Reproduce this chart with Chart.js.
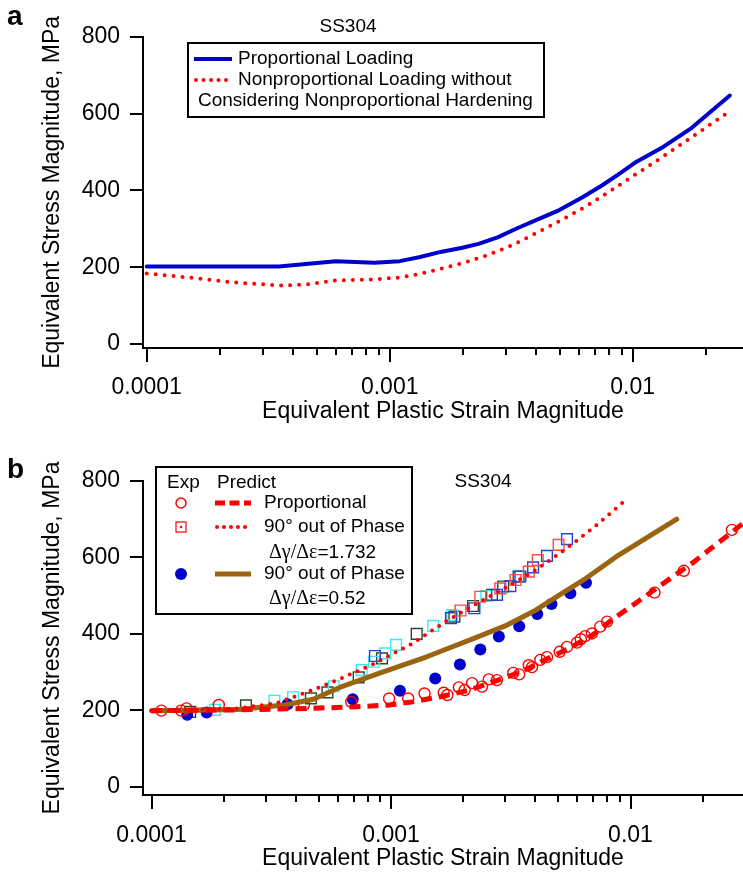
<!DOCTYPE html>
<html><head><meta charset="utf-8">
<script src="https://cdn.jsdelivr.net/npm/chart.js@4"></script>
<style>
html,body{margin:0;padding:0;background:#fff;width:743px;height:874px;overflow:hidden}
canvas{position:absolute;left:0;display:block}
</style></head>
<body>
<canvas id="ca" width="743" height="437" style="top:0"></canvas>
<canvas id="cb" width="743" height="437" style="top:437px"></canvas>
<script>
// ---------- shared axis ticks ----------
const yTickValues = [0, 200, 400, 600, 800];
const xDecades = [1e-4, 1e-3, 1e-2];
const xDecadeLabels = ['0.0001', '0.001', '0.01'];
const xTickMult = [1, 2, 3, 4, 5, 6, 7, 8, 9];

// ---------- panel a ----------
const strainA_prop = [1e-4, 3.5e-4, 6.0e-4, 8.65e-4, 1.1e-3, 1.32e-3, 1.62e-3, 1.99e-3, 2.32e-3, 2.78e-3, 3.33e-3, 3.98e-3, 4.99e-3, 6.24e-3, 7.47e-3, 8.74e-3, 1.02e-2, 1.34e-2, 1.75e-2, 2.51e-2];
const stressA_prop = [202, 202, 216, 212, 216, 226, 240, 251, 261, 278, 301, 322, 349, 383, 413, 442, 472, 514, 563, 647];
const strainA_nonprop = [1e-4, 1.5e-4, 2.35e-4, 3.68e-4, 4.6e-4, 6.0e-4, 8.26e-4, 1.08e-3, 1.29e-3, 1.62e-3, 2.03e-3, 2.54e-3, 3.18e-3, 3.98e-3, 4.99e-3, 6.24e-3, 7.8e-3, 9.35e-3, 1.22e-2, 1.67e-2, 2.4e-2];
const stressA_nonprop = [184, 173, 160, 152, 156, 166, 168, 173, 181, 196, 212, 232, 257, 288, 320, 354, 392, 425, 472, 530, 598];

// ---------- panel b : predictions ----------
const strainB_predProp = [1e-4, 2.29e-4, 4.53e-4, 7.14e-4, 9.82e-4, 1.23e-3, 1.62e-3, 2.13e-3, 2.8e-3, 3.51e-3, 4.4e-3, 5.53e-3, 6.95e-3, 8.33e-3, 1.05e-2, 1.37e-2, 1.81e-2, 2.95e-2];
const stressB_predProp = [199, 201, 205, 209, 214, 222, 236, 253, 279, 301, 332, 362, 397, 436, 480, 532, 585, 689];
const strainB_pred1732 = [1e-4, 2.29e-4, 3.3e-4, 4.53e-4, 6.23e-4, 8.57e-4, 1.23e-3, 1.69e-3, 2.22e-3, 3.05e-3, 4.02e-3, 5.28e-3, 6.95e-3, 9.5e-3];
const stressB_pred1732 = [199, 205, 218, 249, 284, 323, 375, 432, 475, 523, 567, 619, 676, 749];
const strainB_pred052 = [1e-4, 2.29e-4, 3.61e-4, 4.74e-4, 6.23e-4, 8.96e-4, 1.41e-3, 2.22e-3, 3.05e-3, 4.02e-3, 5.06e-3, 6.37e-3, 8.72e-3, 1.56e-2];
const stressB_pred052 = [199, 202, 214, 229, 262, 297, 340, 388, 423, 462, 502, 541, 602, 700];

// ---------- panel b : experiments ----------
const strainB_expProp = [1.1e-4, 1.33e-4, 1.4e-4, 1.91e-4, 4.33e-4, 6.82e-4, 9.82e-4, 1.18e-3, 1.38e-3, 1.66e-3, 1.72e-3, 1.92e-3, 2.03e-3, 2.18e-3, 2.4e-3, 2.56e-3, 2.77e-3, 3.24e-3, 3.43e-3, 3.76e-3, 3.88e-3, 4.2e-3, 4.48e-3, 5.06e-3, 5.43e-3, 5.98e-3, 6.2e-3, 6.47e-3, 6.9e-3, 7.48e-3, 7.98e-3, 1.26e-2, 1.67e-2, 2.65e-2];
const stressB_expProp = [199, 199, 205, 214, 214, 222, 231, 231, 244, 246, 240, 260, 253, 271, 262, 281, 279, 298, 294, 318, 313, 332, 339, 353, 366, 377, 386, 394, 401, 419, 432, 508, 565, 672];
const strainB_sqGreen = [1.45e-4, 2.48e-4, 4.63e-4, 5.43e-4, 7.33e-4, 9.17e-4, 1.28e-3, 1.84e-3, 2.2e-3, 2.64e-3, 2.94e-3, 3.41e-3];
const stressB_sqGreen = [196, 213, 231, 247, 286, 336, 400, 445, 473, 502, 524, 550];
const strainB_sqCyan = [1.84e-4, 3.26e-4, 3.9e-4, 5.77e-4, 7.54e-4, 8.49e-4, 9.46e-4, 1.05e-3, 1.5e-3, 1.8e-3, 2.5e-3];
const stressB_sqCyan = [201, 225, 234, 263, 305, 327, 349, 371, 421, 449, 499];
const strainB_sqBlue = [8.57e-4, 1.78e-3, 2.23e-3, 2.77e-3, 3.15e-3, 3.47e-3, 3.92e-3, 4.48e-3, 5.43e-3];
const stressB_sqBlue = [342, 441, 467, 502, 525, 550, 574, 604, 648];
const strainB_sqRed = [1.95e-3, 2.36e-3, 2.86e-3, 3.31e-3, 3.76e-3, 4.1e-3, 5.01e-3];
const stressB_sqRed = [461, 497, 519, 541, 563, 593, 633];
const strainB_exp052 = [1.41e-4, 1.7e-4, 3.7e-4, 6.92e-4, 1.09e-3, 1.53e-3, 1.94e-3, 2.36e-3, 2.82e-3, 3.43e-3, 4.08e-3, 4.68e-3, 5.61e-3, 6.52e-3];
const stressB_exp052 = [188, 194, 216, 229, 251, 283, 320, 359, 393, 420, 452, 478, 506, 534];

// ---------- styles ----------
const FONT = "'Liberation Sans', Arial, Helvetica, sans-serif";
const SERIF = "'Liberation Serif', 'Times New Roman', serif";
const BLUE = '#0000cc', RED = '#ff0000', BROWN = '#9a6410';
Chart.defaults.font.family = FONT;
Chart.defaults.color = '#000';

const pts = (xs, ys) => xs.map((x, i) => ({x: x, y: ys[i]}));

const axisTicks = {
  id: 'axisTicks',
  afterDraw(chart) {
    const ctx = chart.ctx, xs = chart.scales.x, ys = chart.scales.y, ca = chart.chartArea;
    ctx.save();
    ctx.strokeStyle = '#000'; ctx.lineWidth = 2; ctx.lineCap = 'butt';
    ctx.beginPath();
    for (const v of yTickValues) {
      const y = Math.round(ys.getPixelForValue(v));
      ctx.moveTo(ca.left - 13, y); ctx.lineTo(ca.left, y);
    }
    for (const d of xDecades) for (const m of xTickMult) {
      const v = d * m;
      if (v < xs.min || v > xs.max) continue;
      const x = Math.round(xs.getPixelForValue(v));
      ctx.moveTo(x, ca.bottom); ctx.lineTo(x, ca.bottom + (m === 1 ? 14 : 7));
    }
    ctx.stroke();
    ctx.restore();
  }
};

function makeScales(xMinLog, xMaxLog, yMin, xHeight, tickPad, titlePadBottom) {
  return {
    x: {
      type: 'logarithmic', bounds: 'data',
      min: Math.pow(10, xMinLog), max: Math.pow(10, xMaxLog),
      afterFit: s => { s.height = xHeight; },
      afterBuildTicks: s => {
        const t = [];
        for (const d of xDecades) for (const m of xTickMult) { const v = d * m; if (v >= s.min && v <= s.max) t.push({value: v}); }
        s.ticks = t;
      },
      ticks: {
        autoSkip: false, maxRotation: 0, minRotation: 0, padding: tickPad,
        font: {size: 23, family: FONT}, color: '#000',
        callback: (v) => {
          for (let i = 0; i < xDecades.length; i++) if (Math.abs(Math.log10(v) - Math.log10(xDecades[i])) < 1e-6) return xDecadeLabels[i];
          return '';
        }
      },
      grid: {display: true, drawOnChartArea: false, drawTicks: false},
      border: {display: true, color: '#000', width: 2},
      title: {display: true, text: 'Equivalent Plastic Strain Magnitude', font: {size: 23, family: FONT}, color: '#000', padding: {top: 0, bottom: titlePadBottom}}
    },
    y: {
      type: 'linear', bounds: 'data', min: yMin, max: 800,
      afterFit: s => { s.width = 143; },
      afterBuildTicks: s => { s.ticks = yTickValues.map(v => ({value: v})); },
      ticks: {padding: 23, font: {size: 23, family: FONT}, color: '#000'},
      grid: {display: true, drawOnChartArea: false, drawTicks: false},
      border: {display: true, color: '#000', width: 2},
      title: {display: true, text: 'Equivalent Stress Magnitude, MPa', font: {size: 23, family: FONT}, color: '#000', padding: {top: 39, bottom: 0}}
    }
  };
}

function text(ctx, s, x, y, font, align) {
  ctx.font = font; ctx.textAlign = align || 'left'; ctx.textBaseline = 'middle'; ctx.fillStyle = '#000';
  ctx.fillText(s, x, y);
}

const decorA = {
  id: 'decorA',
  afterDraw(chart) {
    const ctx = chart.ctx;
    ctx.save();
    ctx.font = `bold 28px ${FONT}`; ctx.textAlign = 'left'; ctx.textBaseline = 'alphabetic'; ctx.fillStyle = '#000';
    ctx.fillText('a', 7, 25);
    text(ctx, 'SS304', 348, 27, `19px ${FONT}`, 'center');
    ctx.strokeStyle = '#000'; ctx.lineWidth = 2;
    ctx.strokeRect(188, 43, 356, 74);
    ctx.lineWidth = 4; ctx.strokeStyle = BLUE; ctx.lineCap = 'butt';
    ctx.beginPath(); ctx.moveTo(194, 59); ctx.lineTo(232, 59); ctx.stroke();
    ctx.strokeStyle = RED; ctx.lineCap = 'round'; ctx.setLineDash([0, 7.5]);
    ctx.beginPath(); ctx.moveTo(196, 80); ctx.lineTo(232, 80); ctx.stroke();
    ctx.setLineDash([]);
    text(ctx, 'Proportional Loading', 238, 59, `19px ${FONT}`);
    text(ctx, 'Nonproportional Loading without', 238, 80, `19px ${FONT}`);
    text(ctx, 'Considering Nonproportional Hardening', 198, 101, `19px ${FONT}`);
    ctx.restore();
  }
};

function ratioText(ctx, x, y, value) {
  ctx.font = `20px ${SERIF}`; ctx.textAlign = 'left'; ctx.textBaseline = 'middle'; ctx.fillStyle = '#000';
  const a = 'Δγ/Δε';
  ctx.fillText(a, x, y);
  const w = ctx.measureText(a).width;
  text(ctx, '=' + value, x + w, y, `19px ${FONT}`);
}

const decorB = {
  id: 'decorB',
  afterDraw(chart) {
    const ctx = chart.ctx;
    ctx.save();
    ctx.font = `bold 28px ${FONT}`; ctx.textAlign = 'left'; ctx.textBaseline = 'alphabetic'; ctx.fillStyle = '#000';
    ctx.fillText('b', 7, 41);
    text(ctx, 'SS304', 483, 45, `19px ${FONT}`, 'center');
    ctx.strokeStyle = '#000'; ctx.lineWidth = 2;
    ctx.strokeRect(156, 30, 256, 147);
    text(ctx, 'Exp', 167, 46, `19px ${FONT}`);
    text(ctx, 'Predict', 217, 46, `19px ${FONT}`);
    // row 1
    ctx.strokeStyle = RED; ctx.lineWidth = 1.5;
    ctx.beginPath(); ctx.arc(181, 66, 5, 0, Math.PI * 2); ctx.stroke();
    ctx.lineWidth = 5; ctx.lineCap = 'butt'; ctx.setLineDash([10, 4.5]);
    ctx.beginPath(); ctx.moveTo(215, 66); ctx.lineTo(251, 66); ctx.stroke();
    ctx.setLineDash([]);
    text(ctx, 'Proportional', 264, 66, `19px ${FONT}`);
    // row 2
    ctx.strokeStyle = RED; ctx.lineWidth = 1.2;
    ctx.strokeRect(176, 85, 10, 10);
    ctx.fillStyle = RED; ctx.beginPath(); ctx.arc(181, 90, 1.2, 0, Math.PI * 2); ctx.fill();
    ctx.lineWidth = 4; ctx.lineCap = 'round'; ctx.setLineDash([0, 7]);
    ctx.beginPath(); ctx.moveTo(217, 90); ctx.lineTo(251, 90); ctx.stroke();
    ctx.setLineDash([]);
    text(ctx, '90° out of Phase', 264, 90, `19px ${FONT}`);
    ratioText(ctx, 269, 116, '1.732');
    // row 3
    ctx.fillStyle = BLUE; ctx.beginPath(); ctx.arc(181, 137, 6, 0, Math.PI * 2); ctx.fill();
    ctx.strokeStyle = BROWN; ctx.lineWidth = 5; ctx.lineCap = 'butt';
    ctx.beginPath(); ctx.moveTo(215, 137); ctx.lineTo(251, 137); ctx.stroke();
    text(ctx, '90° out of Phase', 264, 137, `19px ${FONT}`);
    ratioText(ctx, 269, 162, '0.52');
    ctx.restore();
  }
};

const lineDS = (xs, ys, color, width, dash, cap) => ({
  data: pts(xs, ys), borderColor: color, borderWidth: width, borderDash: dash || [],
  borderCapStyle: cap || 'butt', borderJoinStyle: 'round', pointRadius: 0, fill: false, tension: 0, showLine: true
});
const markDS = (xs, ys, style, r, border, fillColor, bw) => ({
  data: pts(xs, ys), showLine: false, pointStyle: style, pointRadius: r,
  pointBorderColor: border, pointBackgroundColor: fillColor, pointBorderWidth: bw
});

const common = (scales, padTop) => ({
  responsive: false, animation: false, devicePixelRatio: 1,
  layout: {autoPadding: false, padding: {top: padTop, right: 0, bottom: 0, left: 0}},
  plugins: {legend: {display: false}, tooltip: {enabled: false}, title: {display: false}},
  scales: scales
});

new Chart(document.getElementById('ca'), {
  type: 'line',
  data: {datasets: [
    lineDS(strainA_prop, stressA_prop, BLUE, 4, [], 'round'),
    lineDS(strainA_nonprop, stressA_nonprop, RED, 4, [0, 9], 'round')
  ]},
  options: common(makeScales(-4.0152, -1.5461, -10.1, 89, 26, 12), 27),
  plugins: [axisTicks, decorA]
});

new Chart(document.getElementById('cb'), {
  type: 'line',
  data: {datasets: [
    lineDS(strainB_predProp, stressB_predProp, RED, 5, [11, 7], 'butt'),
    lineDS(strainB_pred1732, stressB_pred1732, RED, 4, [0, 8.5], 'round'),
    lineDS(strainB_pred052, stressB_pred052, BROWN, 5, [], 'round'),
    markDS(strainB_expProp, stressB_expProp, 'circle', 5.5, RED, 'rgba(0,0,0,0)', 1.4),
    markDS(strainB_exp052, stressB_exp052, 'circle', 6, BLUE, BLUE, 0),
    markDS(strainB_sqRed, stressB_sqRed, 'rect', 7.6, '#ff4a4a', 'rgba(0,0,0,0)', 1.4),
    markDS(strainB_sqBlue, stressB_sqBlue, 'rect', 7.6, '#2244dd', 'rgba(0,0,0,0)', 1.4),
    markDS(strainB_sqCyan, stressB_sqCyan, 'rect', 7.6, '#3ee8ee', 'rgba(0,0,0,0)', 1.4),
    markDS(strainB_sqGreen, stressB_sqGreen, 'rect', 7.6, '#2b4a2b', 'rgba(0,0,0,0)', 1.4)
  ]},
  options: common(makeScales(-4.0355, -1.5303, -21.7, 79, 27, 2), 44),
  plugins: [axisTicks, decorB]
});
</script>
</body></html>
